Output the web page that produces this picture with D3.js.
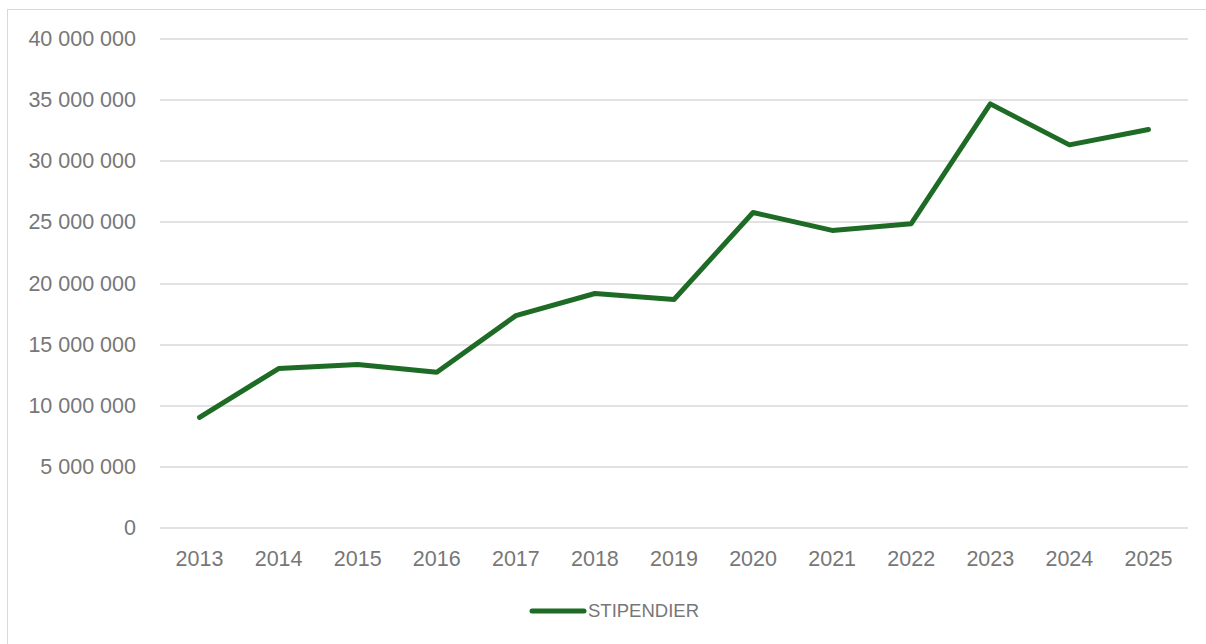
<!DOCTYPE html>
<html>
<head>
<meta charset="utf-8">
<script src="https://cdn.jsdelivr.net/npm/d3@7"></script>
<style>
  body { margin: 0; background: #fff; }
  svg { display: block; font-family: "Liberation Sans", Arial, sans-serif; }
</style>
</head>
<body>
<div id="chart"></div>
<script>
const years = ["2013", "2014", "2015", "2016", "2017", "2018", "2019", "2020", "2021", "2022", "2023", "2024", "2025"];
const stipendier = [9000000, 13000000, 13330000, 12700000, 17330000, 19140000, 18650000, 25770000, 24300000, 24850000, 34650000, 31300000, 32560000];
const yTicks = [0, 5000000, 10000000, 15000000, 20000000, 25000000, 30000000, 35000000, 40000000];
const seriesName = "STIPENDIER";

const W = 1206, H = 644;
const margin = { top: 38.5, right: 18, bottom: 116.5, left: 160 };
const width = W - margin.left - margin.right;
const height = H - margin.top - margin.bottom;
const textColor = "#777777";
const lineColor = "#1d6b25";

const svg = d3.select("#chart").append("svg")
  .attr("width", W)
  .attr("height", H);

// chart frame
svg.append("rect")
  .attr("x", 7.5).attr("y", 9.5)
  .attr("width", W + 10).attr("height", H + 10)
  .attr("fill", "none")
  .attr("stroke", "#d9d9d9");

const g = svg.append("g").attr("transform", `translate(${margin.left},${margin.top})`);

const x = d3.scaleBand().domain(years).range([0, width]).padding(0);
const y = d3.scaleLinear().domain([0, 40000000]).range([height, 0]);

const fmt = v => d3.format(",")(v).replace(/,/g, " ");

// gridlines
g.append("g")
  .selectAll("line")
  .data(yTicks)
  .join("line")
  .attr("x1", 0).attr("x2", width)
  .attr("y1", d => Math.round(y(d)) + 0.5)
  .attr("y2", d => Math.round(y(d)) + 0.5)
  .attr("stroke", "#d9d9d9")
  .attr("stroke-width", 1.3);

// y labels
g.append("g")
  .selectAll("text")
  .data(yTicks)
  .join("text")
  .attr("x", -24)
  .attr("y", d => y(d))
  .attr("dy", "0.35em")
  .attr("text-anchor", "end")
  .attr("fill", textColor)
  .style("font-size", "21.5px")
  .text(fmt);

// x labels
g.append("g")
  .selectAll("text")
  .data(years)
  .join("text")
  .attr("x", d => x(d) + x.bandwidth() / 2)
  .attr("y", height + 38)
  .attr("text-anchor", "middle")
  .attr("fill", textColor)
  .style("font-size", "21.5px")
  .text(d => d);

// line
const line = d3.line()
  .x((d, i) => x(years[i]) + x.bandwidth() / 2)
  .y(d => y(d));

g.append("path")
  .datum(stipendier)
  .attr("d", line)
  .attr("fill", "none")
  .attr("stroke", lineColor)
  .attr("stroke-width", 5)
  .attr("stroke-linejoin", "round")
  .attr("stroke-linecap", "round");

// legend
const legend = svg.append("g").attr("transform", "translate(532, 611)");
legend.append("line")
  .attr("x1", 0).attr("x2", 52)
  .attr("stroke", lineColor)
  .attr("stroke-width", 5)
  .attr("stroke-linecap", "round");
legend.append("text")
  .attr("x", 56)
  .attr("dy", "0.35em")
  .attr("fill", textColor)
  .style("font-size", "18.5px")
  .text(seriesName);
</script>
</body>
</html>
